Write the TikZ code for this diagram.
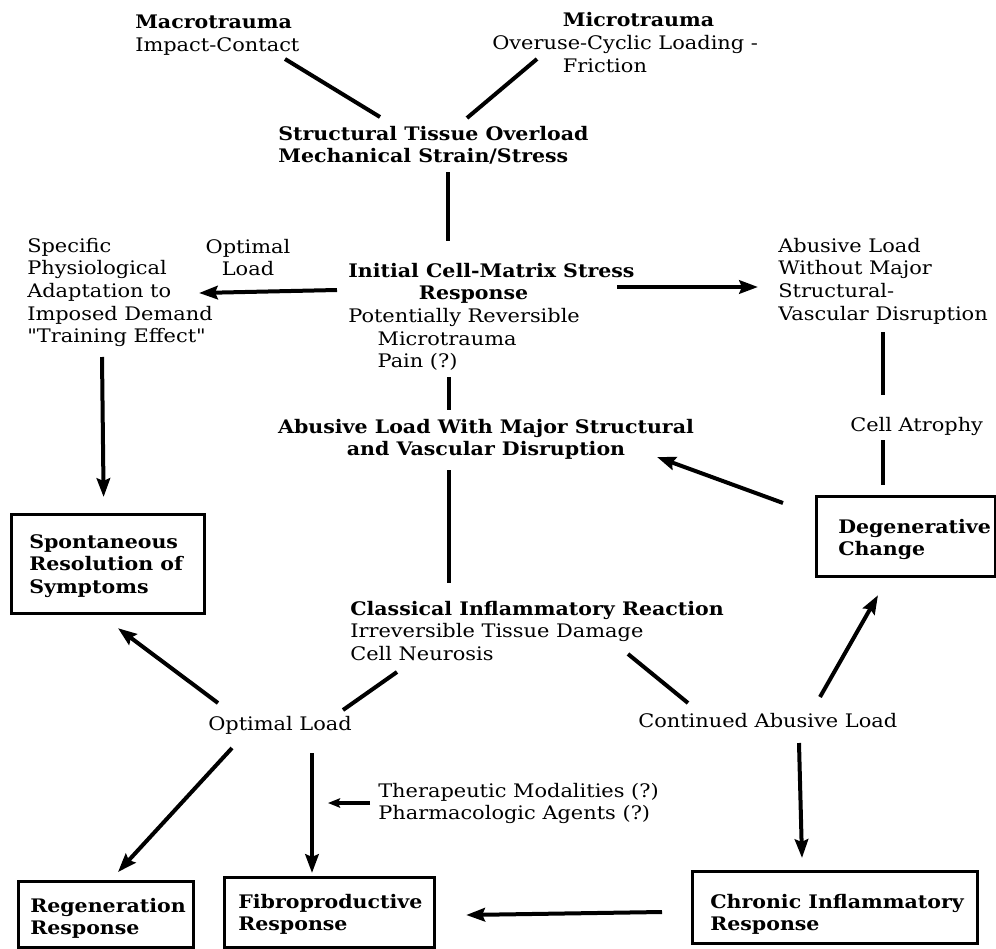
\documentclass[tikz,border=0pt]{standalone}
\usepackage{fontspec}
\setmainfont{DejaVu Serif}[UprightFeatures={FakeStretch=1.12},BoldFeatures={FakeStretch=1.10}]
\usetikzlibrary{arrows.meta}
\newcommand{\mlL}[1]{\begin{tabular}[t]{@{}l@{}}#1\end{tabular}}
\newcommand{\mlC}[1]{\begin{tabular}[t]{@{}c@{}}#1\end{tabular}}
\newcommand{\sq}{{\addfontfeatures{Ligatures=TeXOff}"}}
\begin{document}
\begin{tikzpicture}[x=0.75pt,y=-0.75pt,
  txt/.style={inner sep=0pt, anchor=base west, font=\fontsize{14}{17}\selectfont},
  ctxt/.style={inner sep=0pt, anchor=base, font=\fontsize{14}{17}\selectfont},
  ln/.style={line width=3pt},
  arr/.style={line width=3pt, -{Stealth[length=14pt,width=10pt,inset=2pt]}},
  sarr/.style={line width=2.6pt, -{Stealth[length=9pt,width=7pt,inset=1.5pt]}},
  box/.style={draw, line width=2.4pt, inner sep=0pt, anchor=north west}]
\useasboundingbox (0,0) rectangle (996,949);

% text blocks
\node[txt] (macro) at (135,29) {\mlL{\textbf{Macrotrauma}\\Impact-Contact}};
\node[txt] (micro) at (492,27) {\mlL{\hspace*{53pt}\textbf{Microtrauma}\\Overuse-Cyclic Loading -\\\hspace*{53pt}Friction}};
\node[txt] (sto) at (278,140) {\mlL{\textbf{Structural Tissue Overload}\\\textbf{Mechanical Strain/Stress}}};
\node[txt] (icm) at (348,277) {\mlL{\textbf{Initial Cell-Matrix Stress}\\\hspace*{53pt}\textbf{Response}\\Potentially Reversible\\\hspace*{22pt}Microtrauma\\\hspace*{22pt}Pain (?)}};
\node[txt] (spa) at (27,252) {\mlL{Specific\\Physiological\\Adaptation to\\Imposed Demand\\\sq Training Effect\sq}};
\node[ctxt] (ol1) at (248,253) {\mlC{Optimal\\Load}};
\node[txt] (abw) at (778,252) {\mlL{Abusive Load\\Without Major\\Structural-\\Vascular Disruption}};
\node[txt] (atro) at (850,431) {Cell Atrophy};
\node[ctxt] (abm) at (486,433) {\mlC{\textbf{Abusive Load With Major Structural}\\\textbf{and Vascular Disruption}}};
\node[txt] (cir) at (350,615) {\mlL{\textbf{Classical Inflammatory Reaction}\\Irreversible Tissue Damage\\Cell Neurosis}};
\node[txt] (olb) at (208,730) {Optimal Load};
\node[txt] (cal) at (638,727) {Continued Abusive Load};
\node[txt] (thp) at (378,797) {\mlL{Therapeutic Modalities (?)\\Pharmacologic Agents (?)}};

% boxes
\node[box, minimum width=144.75pt, minimum height=74.25pt] (spont) at (10,513) {};
\node[txt] (spontT) at (29,548) {\mlL{\textbf{Spontaneous}\\\textbf{Resolution of}\\\textbf{Symptoms}}};
\node[box, minimum width=134.25pt, minimum height=60pt] (deg) at (815,495) {};
\node[txt] (degT) at (838,533) {\mlL{\textbf{Degenerative}\\\textbf{Change}}};
\node[box, minimum width=131.25pt, minimum height=49.5pt] (regen) at (17,880) {};
\node[txt] (regenT) at (30,912) {\mlL{\textbf{Regeneration}\\\textbf{Response}}};
\node[box, minimum width=157.5pt, minimum height=52.5pt] (fibro) at (223,876) {};
\node[txt] (fibroT) at (238,908) {\mlL{\textbf{Fibroproductive}\\\textbf{Response}}};
\node[box, minimum width=213.75pt, minimum height=54pt] (chron) at (691,870) {};
\node[txt] (chronT) at (710,908) {\mlL{\textbf{Chronic Inflammatory}\\\textbf{Response}}};

% connectors
\draw[ln] ([shift={(150,30)}]macro.base west) -- ([shift={(102,-23)}]sto.base west);
\draw[ln] ([shift={(45,32)}]micro.base west) -- ([shift={(189,-22)}]sto.base west);
\draw[ln] ([shift={(170,32)}]sto.base west) -- ([shift={(100,-36)}]icm.base west);
\draw[arr] ([shift={(-11,13)}]icm.base west) -- ([shift={(172,41)}]spa.base west);
\draw[arr] ([shift={(269,10)}]icm.base west) -- ([shift={(-20,35)}]abw.base west);
\draw[ln] ([shift={(101,100)}]icm.base west) -- ([shift={(-37,-23)}]abm.base);
\draw[ln] ([shift={(-37,37)}]abm.base) -- ([shift={(99,-32)}]cir.base west);
\draw[arr] ([shift={(75,105)}]spa.base west) -- ([shift={(-4.5,-16)}]spont.north);
\draw[ln] ([shift={(105,80)}]abw.base west) -- ([shift={(33,-36)}]atro.base west);
\draw[ln] ([shift={(33,9)}]atro.base west) -- ([shift={(68,-10)}]deg.north west);
\draw[arr] ([shift={(-32,8)}]deg.north west) -- ([shift={(171,24)}]abm.base);
\draw[arr] ([shift={(10,-27)}]olb.base west) -- ([shift={(108,13)}]spont.south west);
\draw[ln] ([shift={(47,57)}]cir.base west) -- ([shift={(135,-20)}]olb.base west);
\draw[ln] ([shift={(278,39)}]cir.base west) -- ([shift={(50,-24)}]cal.base west);
\draw[arr] ([shift={(182,-30)}]cal.base west) -- ([shift={(63,17)}]deg.south west);
\draw[arr] ([shift={(161,16)}]cal.base west) -- ([shift={(111,-12)}]chron.north west);
\draw[arr] ([shift={(-29,42)}]chron.north west) -- ([shift={(30,39)}]fibro.north east);
\draw[arr] ([shift={(24,18)}]olb.base west) -- ([shift={(101,-8)}]regen.north west);
\draw[arr] ([shift={(104,23)}]olb.base west) -- ([shift={(89,-3)}]fibro.north west);
\draw[sarr] ([shift={(-8,6)}]thp.base west) -- ([shift={(105,-73)}]fibro.north west);
\end{tikzpicture}
\end{document}
